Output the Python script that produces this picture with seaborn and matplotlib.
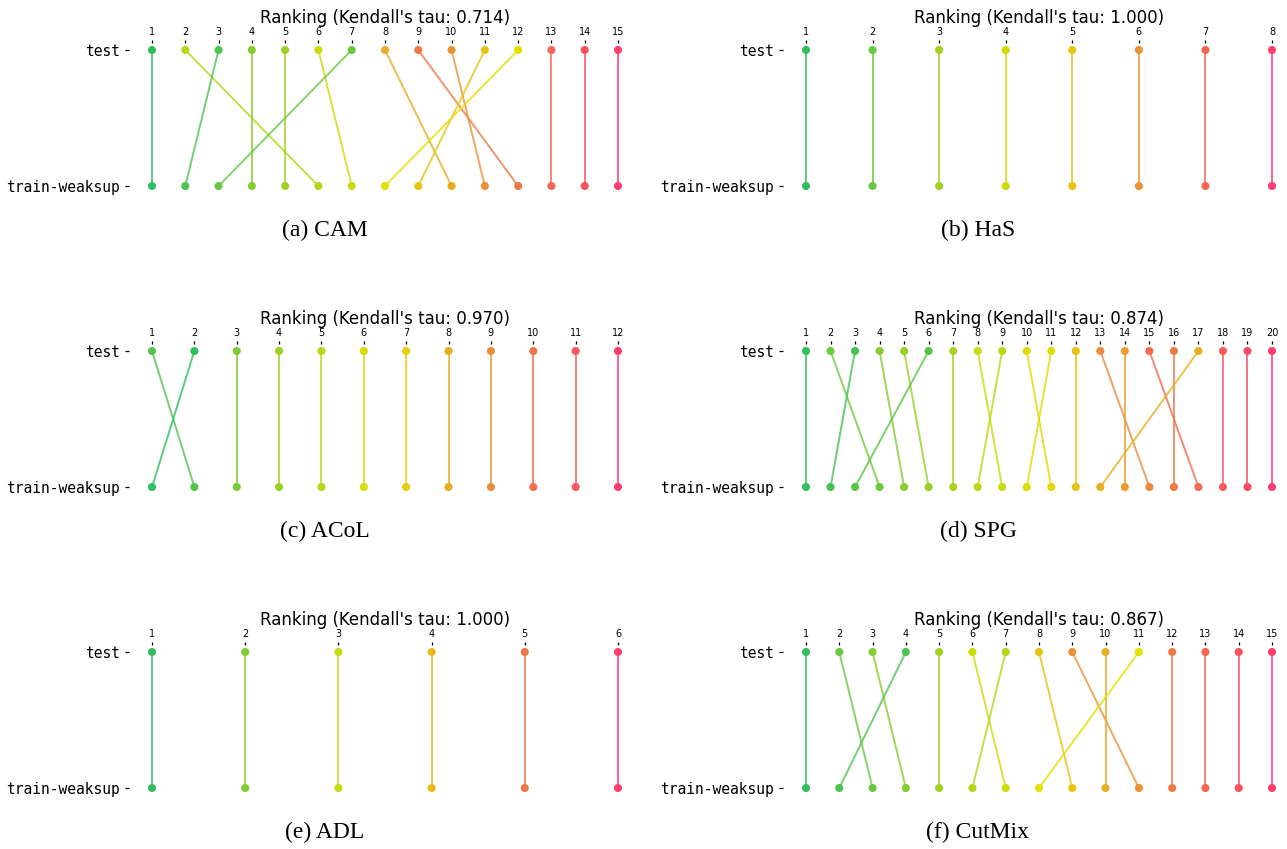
import numpy as np
import pandas as pd
import matplotlib
matplotlib.use("Agg")
import matplotlib.pyplot as plt
import seaborn as sns

# Train-weaksup rank of the method placed at each test rank (test ranks are 1..N)
methods = ["CAM", "HaS", "ACoL", "SPG", "ADL", "CutMix"]
letters = ["a", "b", "c", "d", "e", "f"]
cam_train = [1, 6, 2, 4, 5, 7, 3, 10, 12, 11, 9, 8, 13, 14, 15]
has_train = [1, 2, 3, 4, 5, 6, 7, 8]
acol_train = [2, 1, 3, 4, 5, 6, 7, 8, 9, 10, 11, 12]
spg_train = [1, 4, 2, 5, 6, 3, 7, 9, 8, 11, 10, 12, 15, 14, 17, 16, 13, 18, 19, 20]
adl_train = [1, 2, 3, 4, 5, 6]
cutmix_train = [1, 3, 4, 2, 5, 7, 6, 9, 11, 10, 8, 12, 13, 14, 15]
rankings = [cam_train, has_train, acol_train, spg_train, adl_train, cutmix_train]
split_labels = ["test", "train-weaksup"]

ramp = ["#30be5e", "#94cf28", "#e4e000", "#ec843f", "#ff3d6e"]


def kendall_tau(order):
    n = len(order)
    conc = disc = 0
    for i in range(n):
        for j in range(i + 1, n):
            if order[i] < order[j]:
                conc += 1
            else:
                disc += 1
    return (conc - disc) / (conc + disc)


sns.set_style("white")
plt.rcParams["font.family"] = ["DejaVu Sans"]
plt.rcParams["text.color"] = "black"
plt.rcParams["xtick.color"] = "black"
plt.rcParams["ytick.color"] = "black"
plt.rcParams["axes.labelcolor"] = "black"

fig = plt.figure(figsize=(12.87, 8.49), dpi=100)

W, H = 1287.0, 849.0
col_left = [128.7, 782.7]
ax_w = 512.6
row_top = [43.2, 344.2, 645.2]
ax_h = 149.6
cap_x = [325, 978]
cap_y = [230, 531, 832]

for k, (train, name, letter) in enumerate(zip(rankings, methods, letters)):
    r, c = divmod(k, 2)
    ax = fig.add_axes([col_left[c] / W, 1 - (row_top[r] + ax_h) / H, ax_w / W, ax_h / H])
    n = len(train)
    pal = sns.blend_palette(ramp, n_colors=n)
    test = list(range(1, n + 1))

    rows = []
    for t, tr in zip(test, train):
        rows.append({"item": t, "pos": t, "level": 1, "col": tr})
        rows.append({"item": t, "pos": tr, "level": 0, "col": tr})
    df = pd.DataFrame(rows)
    colors = {t: pal[tr - 1] for t, tr in zip(test, train)}

    sns.lineplot(data=df, x="pos", y="level", hue="item", units="item",
                 estimator=None, sort=False, palette=colors, legend=False,
                 lw=1.4, alpha=0.8, ax=ax)
    sns.scatterplot(data=df, x="pos", y="level", hue="item", palette=colors,
                    legend=False, s=34, edgecolor="none", linewidth=0, ax=ax,
                    zorder=3)

    span = n - 1
    ax.set_xlim(1 - 0.05 * span, n + 0.05 * span)
    ax.set_ylim(-0.05, 1.05)
    ax.set_xticks(test)
    ax.set_xticklabels([str(t) for t in test])
    ax.set_yticks([1, 0])
    ax.set_yticklabels(split_labels, family="DejaVu Sans Mono", fontsize=10.5)
    ax.set_xlabel("")
    ax.set_ylabel("")
    ax.xaxis.tick_top()
    ax.tick_params(axis="x", top=True, bottom=False, labeltop=True,
                   labelbottom=False, length=2.5, width=0.9, pad=2,
                   labelsize=7, colors="black")
    ax.tick_params(axis="y", left=True, length=3, width=0.9, pad=3,
                   colors="black")
    for sp in ax.spines.values():
        sp.set_visible(False)
    tau = kendall_tau(train)
    ax.set_title(f"Ranking (Kendall's tau: {tau:.3f})", fontsize=12, pad=3,
                 color="black")

    fig.text(cap_x[c] / W, 1 - cap_y[r] / H, f"({letter}) {name}",
             family="Liberation Serif", fontsize=17, ha="center", va="center",
             color="black")

fig.savefig("out.png", dpi=100)
